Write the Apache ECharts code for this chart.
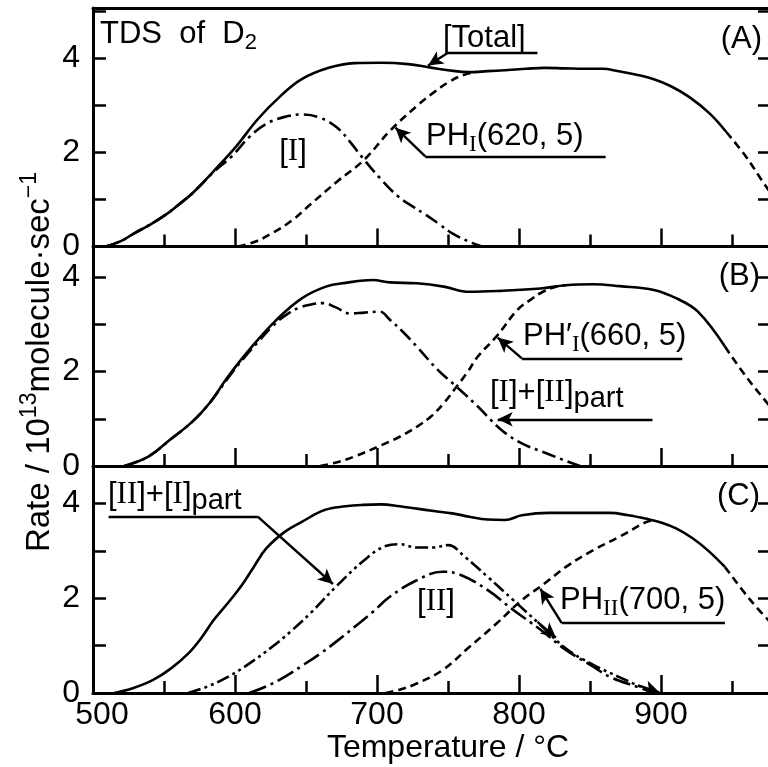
<!DOCTYPE html>
<html><head><meta charset="utf-8">
<script src="https://cdn.jsdelivr.net/npm/echarts@6/dist/echarts.min.js"></script>
<style>html,body{margin:0;padding:0;background:#fff}#c{width:768px;height:767px}</style>
</head><body><div id="c"></div>
<script>
// ---------- data (°C, 10^13 molecule/sec) ----------
const xTickLabels = [500, 600, 700, 800, 900];
const yTickLabels = [0, 2, 4];
const panelYMax = [5.06, 4.65, 4.79];
const totalSolidEnd = [946, 945, 945];

// Panel A
const A_total = [[509,0],[520,0.12],[529,0.28],[540,0.46],[551,0.67],[560,0.88],[570,1.13],[585,1.6],[601,2.13],[616,2.7],[632,3.19],[647,3.55],[666,3.79],[684,3.89],[703,3.9],[722,3.87],[737,3.8],[750,3.74],[765,3.7],[778,3.72],[790,3.74],[805,3.77],[818,3.79],[832,3.78],[846,3.77],[859,3.77],[870,3.72],[882,3.65],[895,3.55],[907,3.4],[920,3.17],[934,2.83],[946,2.43],[960,1.9],[970,1.45],[978,1.1]];
const A_I = [[509,0],[520,0.12],[529,0.28],[540,0.46],[551,0.67],[560,0.88],[570,1.13],[585,1.58],[598,1.92],[610,2.32],[622,2.6],[635,2.75],[647,2.8],[660,2.73],[672,2.52],[681,2.22],[691,1.84],[703,1.42],[715,1.06],[725,0.85],[734,0.68],[744,0.47],[753,0.28],[765,0.1],[774,0]];
const A_PH = [[602,0],[614,0.1],[626,0.28],[640,0.55],[653,0.89],[672,1.38],[691,1.84],[709,2.45],[728,2.98],[740,3.27],[750,3.48],[760,3.63],[770,3.71]];

// Panel B
const B_total = [[522,0],[539,0.2],[554,0.55],[570,0.94],[582,1.33],[595,1.89],[610,2.46],[629,3.09],[647,3.55],[664,3.8],[678,3.88],[697,3.94],[709,3.89],[728,3.87],[747,3.8],[765,3.69],[787,3.71],[815,3.76],[833,3.83],[852,3.85],[871,3.81],[895,3.73],[911,3.55],[926,3.27],[945,2.53],[960,1.89],[973,1.4],[978,1.22]];
const B_I_IIpart = [[522,0],[539,0.2],[554,0.55],[570,0.94],[582,1.33],[595,1.86],[606,2.28],[616,2.62],[626,2.95],[635,3.18],[645,3.35],[655,3.43],[662,3.45],[671,3.36],[681,3.23],[691,3.25],[702,3.27],[709,3.1],[718,2.85],[728,2.53],[743,2.03],[756,1.68],[771,1.26],[787,0.78],[802,0.48],[821,0.25],[832,0.12],[843,0]];
const B_PH = [[660,0],[672,0.08],[684,0.2],[703,0.44],[716,0.62],[728,0.83],[738,1.05],[747,1.33],[756,1.68],[764,2.0],[771,2.32],[784,2.74],[799,3.31],[808,3.52],[815,3.66],[827,3.81],[833,3.83]];

// Panel C
const C_total = [[515,0],[528,0.1],[542,0.27],[555,0.52],[567,0.83],[576,1.15],[585,1.54],[595,1.9],[604,2.24],[613,2.65],[622,3.05],[635,3.4],[647,3.61],[663,3.86],[678,3.94],[690,3.97],[703,3.98],[716,3.94],[728,3.89],[740,3.84],[753,3.79],[765,3.72],[778,3.66],[790,3.65],[802,3.75],[821,3.8],[843,3.8],[864,3.8],[877,3.75],[889,3.68],[900,3.6],[911,3.47],[922,3.27],[933,3.01],[945,2.66],[963,1.96],[978,1.46]];
const C_II_Ipart = [[567,0],[580,0.13],[595,0.34],[610,0.62],[626,0.97],[640,1.32],[653,1.68],[672,2.27],[691,2.8],[706,3.1],[716,3.14],[728,3.07],[740,3.07],[750,3.12],[762,2.87],[778,2.45],[796,1.96],[815,1.44],[833,0.94],[852,0.6],[871,0.33],[886,0.13],[898,0]];
const C_II = [[610,0],[622,0.14],[635,0.34],[647,0.57],[660,0.83],[672,1.1],[684,1.39],[697,1.71],[709,2.03],[728,2.38],[746,2.56],[759,2.49],[778,2.17],[796,1.75],[815,1.34],[833,0.91],[852,0.56],[864,0.34],[883,0.13],[895,0]];
const C_PH = [[706,0],[717,0.08],[728,0.2],[746,0.48],[765,0.97],[784,1.46],[802,1.96],[818,2.31],[833,2.66],[852,3.01],[871,3.3],[889,3.6],[896,3.66]];

// ---------- styles ----------
const FONT = 'Liberation Sans', SERIF = 'Liberation Serif', K = '#000';
const DASH = [8, 5], DASHDOT = [14, 5, 3, 5], DASHDOT2 = [13, 4, 3, 4, 3, 4], LONGDASHDOT = [18, 5, 3, 5];
const LW = 2.6;

const grids = [
  {left: 93, width: 710, top: 8, height: 238.5, outerBoundsMode: 'none', containLabel: false},
  {left: 93, width: 710, top: 246.5, height: 219.5, outerBoundsMode: 'none', containLabel: false},
  {left: 93, width: 710, top: 466, height: 227, outerBoundsMode: 'none', containLabel: false}
];

function xAx(i, labels) {
  return {
    type: 'value', gridIndex: i, min: 500, max: 1000, interval: 100,
    axisLine: {show: true, onZero: false, lineStyle: {color: K, width: 3}},
    axisTick: {show: true, inside: true, length: 18, lineStyle: {color: K, width: 2.5}},
    minorTick: {show: true, splitNumber: 2, length: 12, lineStyle: {color: K, width: 2.5}},
    splitLine: {show: false}, minorSplitLine: {show: false},
    axisLabel: {show: labels, margin: 6, color: K, fontFamily: FONT, fontSize: 32,
      formatter: v => !xTickLabels.includes(v) ? '' : (v === 500 ? '{first|500}' : String(v)),
      rich: {first: {fontFamily: FONT, fontSize: 32, color: K, padding: [0, 0, 0, 18]}}},
    name: labels ? 'Temperature / °C' : '', nameLocation: 'middle', nameGap: 34,
    nameTextStyle: {color: K, fontFamily: FONT, fontSize: 32}
  };
}
function yAx(i, right) {
  return {
    type: 'value', gridIndex: i, min: 0, max: panelYMax[i], interval: 1,
    position: right ? 'right' : 'left', offset: right ? -32 : 0,
    axisLine: {show: true, onZero: false, lineStyle: {color: K, width: 3}},
    axisTick: {show: true, inside: true, length: 13, lineStyle: {color: K, width: 2.5}},
    splitLine: {show: false},
    axisLabel: {show: !right, margin: 13, color: K, fontFamily: FONT, fontSize: 32,
      formatter: v => yTickLabels.includes(v) ? String(v) : ''}
  };
}

const xAxis = [xAx(0, false), xAx(1, false), xAx(2, true),
  {type: 'value', gridIndex: 0, position: 'top', min: 500, max: 1000,
   axisLine: {show: true, onZero: false, lineStyle: {color: K, width: 3}},
   axisTick: {show: false}, axisLabel: {show: false}, splitLine: {show: false}}];
const yAxis = [yAx(0, false), yAx(1, false), yAx(2, false), yAx(0, true), yAx(1, true), yAx(2, true)];

function line(data, i, type, extra) {
  return Object.assign({
    type: 'line', xAxisIndex: i, yAxisIndex: i, data: data, showSymbol: false,
    smooth: 0.4, animation: false, silent: true,
    lineStyle: {color: K, width: LW, type: type, cap: 'butt', join: 'round'}
  }, extra || {});
}
function leaders(list) {
  return {
    silent: true, animation: false, symbol: ['none', 'none'], label: {show: false},
    lineStyle: {type: 'solid', color: K, width: 2.4},
    data: list.map(s => [{coord: s[0]}, s[2] ? {coord: s[1], symbol: 'arrow', symbolSize: [11, 15]} : {coord: s[1]}])
  };
}
// leader lines in data coordinates: [from, to, arrowAtEnd]
const leadA = [[[813,4.11],[750,4.11],false],[[750,4.11],[736,3.84],true],[[861,1.91],[734,1.91],false],[[734,1.91],[713,2.52],true]];
const leadB = [[[915,2.28],[802,2.28],false],[[802,2.28],[785,2.72],true],[[894,0.99],[785,0.99],true]];
const leadC = [[[511,3.72],[616,3.72],false],[[616,3.72],[669,2.3],true],[[945,1.48],[830,1.48],false],[[830,1.48],[815,2.2],true],
               [[813,1.5],[826,1.17],true],[[884,0.16],[899,0.01],true]];

const totals = [A_total, B_total, C_total];
const leadAll = [leadA, leadB, leadC];
const series = [];
totals.forEach((t, i) => {
  series.push(line(t.filter(p => p[0] <= totalSolidEnd[i]), i, 'solid', {markLine: leaders(leadAll[i])}));
  series.push(line(t.filter(p => p[0] >= totalSolidEnd[i]), i, DASH));
});
series.push(line(A_I, 0, DASHDOT), line(A_PH, 0, DASH));
series.push(line(B_I_IIpart, 1, DASHDOT), line(B_PH, 1, DASH));
series.push(line(C_II_Ipart, 2, DASHDOT2), line(C_II, 2, LONGDASHDOT), line(C_PH, 2, DASH));

// ---------- annotation text ----------
const rich = {
  m: {fontFamily: FONT, fontSize: 31, fill: K, lineHeight: 40},
  r: {fontFamily: SERIF, fontSize: 31, fill: K, lineHeight: 40},
  sub: {fontFamily: FONT, fontSize: 22, fill: K, lineHeight: 18, verticalAlign: 'bottom'},
  subr: {fontFamily: SERIF, fontSize: 23, fill: K, lineHeight: 18, verticalAlign: 'bottom'},
  subp: {fontFamily: FONT, fontSize: 29, fill: K, lineHeight: 24, verticalAlign: 'bottom'},
  sup: {fontFamily: FONT, fontSize: 22, fill: K, lineHeight: 18, verticalAlign: 'top'},
  big: {fontFamily: FONT, fontSize: 33, fill: K, lineHeight: 44},
  bsup: {fontFamily: FONT, fontSize: 23, fill: K, lineHeight: 20, verticalAlign: 'top'}
};
function txt(x, y, text, align, rot) {
  return {type: 'text', x: x, y: y, rotation: rot || 0, silent: true,
    style: {text: text, rich: rich, align: align, verticalAlign: 'middle', textAlign: align, textVerticalAlign: 'middle', fill: K, font: '31px ' + FONT}};
}
const graphic = [
  txt(100, 34, '{m|TDS  of  D}{sub|2}', 'left'),
  txt(762, 39, '{m|(A)}', 'right'),
  txt(443, 38, '{m|[Total]}', 'left'),
  txt(293, 152, '{m|[}{r|I}{m|]}', 'center'),
  txt(426, 136, '{m|PH}{subr|I}{m|(620, 5)}', 'left'),
  txt(760, 276, '{m|(B)}', 'right'),
  txt(523, 336, '{m|PH′}{subr|I}{m|(660, 5)}', 'left'),
  txt(490, 393, '{m|[}{r|I}{m|]+[}{r|II}{m|]}{subp|part}', 'left'),
  txt(760, 496, '{m|(C)}', 'right'),
  txt(108, 495, '{m|[}{r|II}{m|]+[}{r|I}{m|]}{subp|part}', 'left'),
  txt(436, 602, '{m|[}{r|II}{m|]}', 'center'),
  txt(560, 600, '{m|PH}{subr|II}{m|(700, 5)}', 'left'),
  txt(40, 362, '{big|Rate / 10}{bsup|13}{big|molecule·sec}{bsup|−1}', 'center', Math.PI / 2)
];

const chart = echarts.init(document.getElementById('c'), null, {renderer: 'canvas', width: 768, height: 767});
chart.setOption({backgroundColor: '#fff', animation: false, grid: grids, xAxis: xAxis, yAxis: yAxis, series: series, graphic: graphic});
</script></body></html>
